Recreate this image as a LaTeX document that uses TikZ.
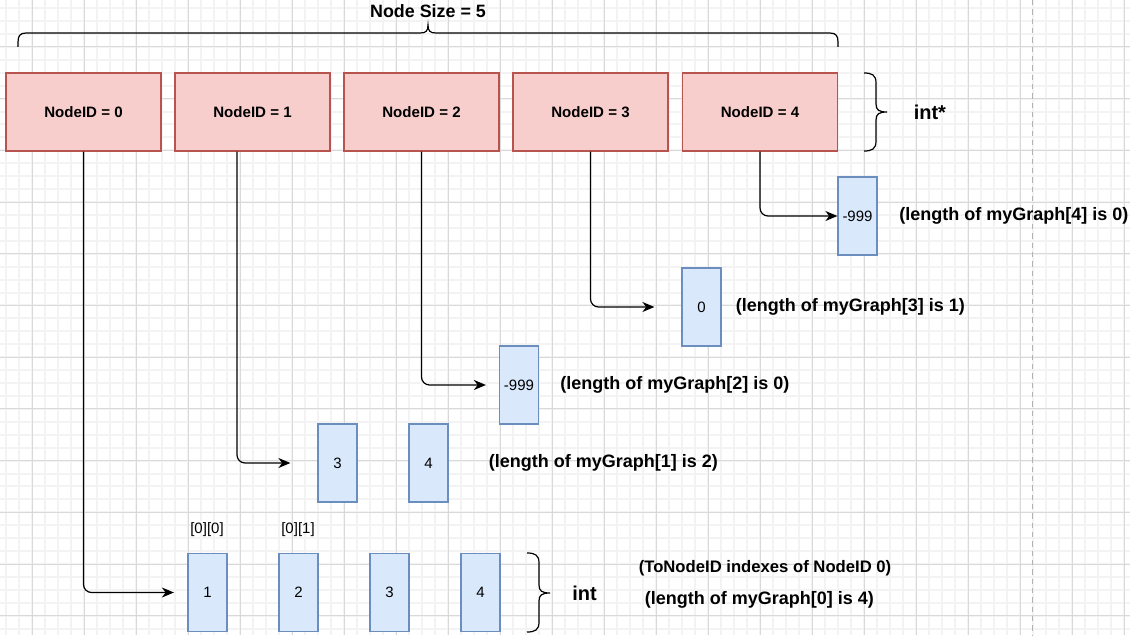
\documentclass[tikz,border=0pt]{standalone}
\usepackage{fontspec}
\setmainfont{Liberation Sans}
\usetikzlibrary{arrows.meta, calc, positioning}

\definecolor{idfill}{HTML}{F8CECC}
\definecolor{iddraw}{HTML}{B85450}
\definecolor{cellfill}{HTML}{DAE8FC}
\definecolor{celldraw}{HTML}{6C8EBF}
\definecolor{minorgray}{HTML}{F3F3F3}
\definecolor{majorgray}{HTML}{D9D9D9}

\tikzset{
  gridminor/.style={minorgray, line width=1.5pt},
  gridmajor/.style={majorgray, line width=0.75pt},
  pageedge/.style={gray!60, line width=0.75pt, dash pattern=on 4pt off 3pt},
  idbox/.style={draw=iddraw, fill=idfill, line width=0.9pt,
    minimum width=116.25pt, minimum height=58.5pt,
    font=\fontsize{11.3}{13}\selectfont\bfseries},
  cellbox/.style={draw=celldraw, fill=cellfill, line width=0.9pt,
    minimum width=29.25pt, minimum height=58.5pt, inner sep=0pt,
    font=\fontsize{11.25}{13}\selectfont},
  ptr/.style={-{Stealth[length=9pt, width=7.5pt, inset=2.8pt]},
    line width=0.9pt, rounded corners=6pt},
  note/.style={anchor=west, inner sep=0pt,
    font=\fontsize{13.5}{16}\selectfont\bfseries},
  idx/.style={inner sep=0pt, font=\fontsize{11.25}{13}\selectfont},
  typ/.style={anchor=west, inner sep=0pt,
    font=\fontsize{15}{18}\selectfont\bfseries},
  curly/.style={line width=0.9pt},
}

\begin{document}
\begin{tikzpicture}[x=0.75pt, y=-0.75pt]
  \useasboundingbox (0,0) rectangle (1130,635);

  % background grid
  \fill[white] (0,0) rectangle (1130,635);
  \foreach \k in {-2,...,84}
    \draw[gridminor] ({32+13*(\k)},0) -- ({32+13*(\k)},635);
  \foreach \m in {-11,...,37}
    \draw[gridminor] (0,{150.3+12.93*(\m)}) -- (1130,{150.3+12.93*(\m)});
  \foreach \k in {0,...,21}
    \draw[gridmajor] ({32+52*\k},0) -- ({32+52*\k},635);
  \foreach \m in {-2,...,9}
    \draw[gridmajor] (0,{150.3+51.72*(\m)}) -- (1130,{150.3+51.72*(\m)});
  \draw[pageedge] (1032,0) -- (1032,635);

  % node array
  \foreach \i/\x in {0/83.5,1/252.5,2/421.5,3/590.5,4/760}
    \node[idbox] (n\i) at (\x,112) {NodeID = \i};

  % adjacency rows
  \node[cellbox] (c4) at (857.5,216) {-999};
  \node[cellbox] (c3) at (701.5,307) {0};
  \node[cellbox] (c2) at (519,385) {-999};
  \node[cellbox] (c1a) at (337.5,463) {3};
  \node[cellbox] (c1b) at (428.5,463) {4};
  \foreach \j/\x in {1/207.5,2/298.5,3/389.5,4/480.5}
    \node[cellbox] (c0\j) at (\x,592.5) {\j};

  % pointers
  \coordinate (e3) at ($(c3.west)+(-27,0)$);
  \coordinate (e2) at ($(c2.west)+(-13,0)$);
  \coordinate (e1) at ($(c1a.west)+(-27,0)$);
  \coordinate (e0) at ($(c01.west)+(-13.5,0)$);
  \coordinate (s1) at ($(n1.south)+(-15.5,0)$);
  \draw[ptr] (n4.south) |- (c4.west);
  \draw[ptr] (n3.south) |- (e3);
  \draw[ptr] (n2.south) |- (e2);
  \draw[ptr] (s1) |- (e1);
  \draw[ptr] (n0.south) |- (e0);

  % labels
  \node[note] (l4) at (899,216) {(length of myGraph[4] is 0)};
  \node[note] (l3) at (735.5,307) {(length of myGraph[3] is 1)};
  \node[note] (l2) at (560,385) {(length of myGraph[2] is 0)};
  \node[note] (l1) at (488.5,463) {(length of myGraph[1] is 2)};
  \node[note] (l0) at (644.5,600) {(length of myGraph[0] is 4)};
  \node[note, font=\fontsize{12.5}{15}\selectfont\bfseries] (lt) at (638.5,568)
    {(ToNodeID indexes of NodeID 0)};
  \node[idx] (i00) at (207,530) {[0][0]};
  \node[idx] (i01) at (298,530) {[0][1]};
  \node[typ] (tp) at (913.5,112) {int*};
  \node[typ] (ti) at (572,593) {int};
  \node[inner sep=0pt, font=\fontsize{13.4}{15}\selectfont\bfseries] (sz) at (428,11)
    {Node Size = 5};

  % braces
  \draw[curly] (18,47) -- (18,42) .. controls (18,36) and (20,33) .. (26,33)
    -- (420,33) .. controls (426,33) and (428,31) .. (428,25)
    .. controls (428,31) and (430,33) .. (436,33) -- (830,33)
    .. controls (836,33) and (838,36) .. (838,42) -- (838,47);
  \draw[curly] (864,73) .. controls (872,73) and (876,75) .. (876,83)
    -- (876,104) .. controls (876,110) and (879,112) .. (887,112)
    .. controls (879,112) and (876,114) .. (876,120) -- (876,141)
    .. controls (876,149) and (872,151) .. (864,151);
  \draw[curly] (527,553) .. controls (535,553) and (539,555) .. (539,563)
    -- (539,585) .. controls (539,591) and (542,593) .. (550,593)
    .. controls (542,593) and (539,595) .. (539,601) -- (539,622)
    .. controls (539,630) and (535,632) .. (527,632);
\end{tikzpicture}
\end{document}
